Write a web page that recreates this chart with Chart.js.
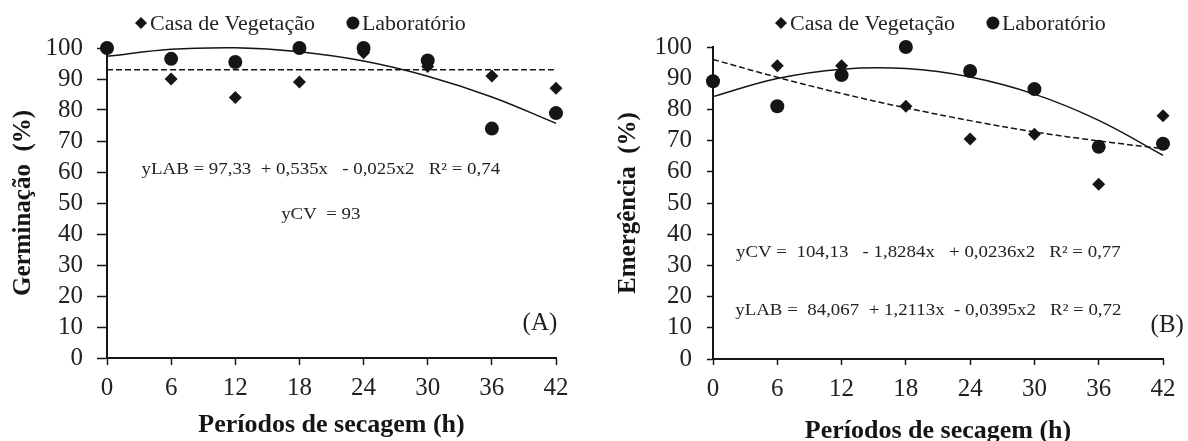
<!DOCTYPE html>
<html>
<head>
<meta charset="utf-8">
<script src="https://cdn.jsdelivr.net/npm/chart.js@4.4.1/dist/chart.umd.min.js"></script>
<style>
  html, body { margin: 0; padding: 0; background: #fff; }
  #wrap { position: relative; width: 1188px; height: 441px; }
  canvas { position: absolute; top: 0; }
</style>
</head>
<body>
<div id="wrap">
  <canvas id="chartA" width="594" height="441" style="left:0"></canvas>
  <canvas id="chartB" width="594" height="441" style="left:594px"></canvas>
</div>
<script>
// drying periods (h)
const hours = [0, 6, 12, 18, 24, 30, 36, 42];
const xTicks = [0, 6, 12, 18, 24, 30, 36, 42];
const yTicks = [0, 10, 20, 30, 40, 50, 60, 70, 80, 90, 100];

// (A) Germinação
const germCasa = [100, 90, 84, 89, 98.5, 94, 91, 87];
const germLab = [100, 96.5, 95.5, 100, 100, 96, 74, 79];
const germLabFit = [97.3, 99.6, 100.1, 98.8, 95.8, 90.9, 84.2, 75.7];
const germCasaFit = [93, 93, 93, 93, 93, 93, 93, 93];

// (B) Emergência
const emerCasa = [89, 94, 94, 81, 70.5, 72, 56, 78];
const emerLab = [89, 81, 91, 100, 92.3, 86.5, 68, 69];
const emerLabFit = [84.1, 89.9, 92.9, 93.1, 90.4, 84.9, 76.5, 65.3];
const emerCasaFit = [96.0, 90.3, 85.1, 80.5, 76.4, 72.8, 69.9, 67.4];

const INK = '#151515';
const SERIF = '"Liberation Serif", "Times New Roman", serif';

function pts(ys) {
  return hours.map((h, i) => ({x: h, y: ys[i]}));
}

function makePanel(id, p) {
  const textPlugin = {
    id: 'panelText',
    afterDatasetsDraw(chart) {
      const ctx = chart.ctx;
      const xs = chart.scales.x, ys = chart.scales.y;
      ctx.save();
      ctx.fillStyle = '#222';
      ctx.textAlign = 'center';
      ctx.textBaseline = 'middle';
      ctx.font = '16px ' + SERIF;
      p.notes.forEach(n => {
        ctx.save();
        ctx.translate(xs.getPixelForValue(n.x), ys.getPixelForValue(n.y));
        ctx.scale(1.18, 1);
        ctx.fillText(n.text, 0, 0);
        ctx.restore();
      });
      ctx.font = '25px ' + SERIF;
      ctx.fillText(p.tag, xs.getPixelForValue(p.tagPos[0]), ys.getPixelForValue(p.tagPos[1]));

      // legend
      ctx.font = '22px ' + SERIF;
      ctx.textAlign = 'left';
      let x = p.legendX;
      const y = 23;
      [0, 1].forEach(i => {
        const ds = chart.data.datasets[i];
        ctx.fillStyle = INK;
        Chart.helpers.drawPoint(ctx, {pointStyle: ds.pointStyle, radius: ds.pointRadius - 0.5, borderWidth: 0, rotation: 0}, x, y);
        ctx.fillStyle = '#222';
        ctx.fillText(ds.label, x + 9, y + 1);
        x += 9 + ctx.measureText(ds.label).width + 38;
      });
      ctx.restore();
    }
  };

  return new Chart(document.getElementById(id), {
    type: 'line',
    data: {
      datasets: [{
        label: 'Casa de Vegetação',
        data: pts(p.casa),
        showLine: false,
        pointStyle: 'rectRot',
        pointRadius: 6.5,
        pointBackgroundColor: INK,
        pointBorderWidth: 0,
        clip: false,
      }, {
        label: 'Laboratório',
        data: pts(p.lab),
        showLine: false,
        pointStyle: 'circle',
        pointRadius: 7,
        pointBackgroundColor: INK,
        pointBorderWidth: 0,
        clip: false,
      }, {
        label: 'ajuste lab',
        data: pts(p.labFit),
        borderColor: INK,
        borderWidth: 1.5,
        pointRadius: 0,
        tension: 0.4,
        clip: false,
      }, {
        label: 'ajuste cv',
        data: pts(p.casaFit),
        borderColor: INK,
        borderWidth: 1.5,
        borderDash: [6, 3],
        pointRadius: 0,
        tension: 0.4,
        clip: false,
      }],
    },
    options: {
      responsive: false,
      animation: false,
      events: [],
      layout: {padding: {top: p.padTop, right: p.padRight, left: 0, bottom: 0}},
      plugins: {legend: {display: false}, tooltip: {enabled: false}},
      scales: {
        x: {
          type: 'linear',
          min: 0,
          max: 42,
          afterBuildTicks: s => { s.ticks = xTicks.map(v => ({value: v})); },
          afterFit: s => { s.height = p.xHeight; },
          ticks: {font: {family: SERIF, size: 25}, color: '#222', padding: p.xTickPad, maxRotation: 0, autoSkip: false},
          grid: {drawOnChartArea: false, drawTicks: true, tickLength: p.xTick, tickColor: INK, tickWidth: 1.5},
          border: {color: INK, width: 2},
          title: {display: true, text: 'Períodos de secagem (h)', color: INK,
                  font: {family: SERIF, size: 26, weight: 'bold'}, padding: {top: 0, bottom: p.xTitlePad}},
        },
        y: {
          min: 0,
          max: 100,
          afterBuildTicks: s => { s.ticks = yTicks.map(v => ({value: v})); },
          afterFit: s => { s.width = p.yWidth; },
          ticks: {font: {family: SERIF, size: 25}, color: '#222', padding: p.yTickPad, autoSkip: false},
          grid: {drawOnChartArea: false, drawTicks: true, tickLength: p.yTick, tickColor: INK, tickWidth: 1.5},
          border: {color: INK, width: 2},
          title: {display: true, text: p.yTitle, color: INK,
                  font: {family: SERIF, size: 25, weight: 'bold'}, padding: {top: p.yTitlePad, bottom: 0}},
        },
      },
    },
    plugins: [textPlugin],
  });
}

makePanel('chartA', {
  casa: germCasa, lab: germLab, labFit: germLabFit, casaFit: germCasaFit,
  yTitle: 'Germinação  (%)', tag: '(A)', tagPos: [40.5, 11.3],
  notes: [
    {text: 'yLAB = 97,33  + 0,535x   - 0,025x2   R² = 0,74', x: 20, y: 60.8},
    {text: 'yCV  = 93', x: 20, y: 46.3},
  ],
  padTop: 48, padRight: 38, yWidth: 107, xHeight: 83,
  yTick: 10, xTick: 7, yTickPad: 14, xTickPad: 8, yTitlePad: 9, xTitlePad: 0,
  legendX: 141,
});

makePanel('chartB', {
  casa: emerCasa, lab: emerLab, labFit: emerLabFit, casaFit: emerCasaFit,
  yTitle: 'Emergência  (%)', tag: '(B)', tagPos: [42.4, 10.9],
  notes: [
    {text: 'yCV =  104,13   - 1,8284x   + 0,0236x2   R² = 0,77', x: 20.1, y: 34},
    {text: 'yLAB =  84,067  + 1,2113x  - 0,0395x2   R² = 0,72', x: 20.1, y: 15.5},
  ],
  padTop: 47, padRight: 25, yWidth: 119, xHeight: 82,
  yTick: 6, xTick: 6, yTickPad: 15, xTickPad: 9, yTitlePad: 20, xTitlePad: -6,
  legendX: 187,
});
</script>
</body>
</html>
